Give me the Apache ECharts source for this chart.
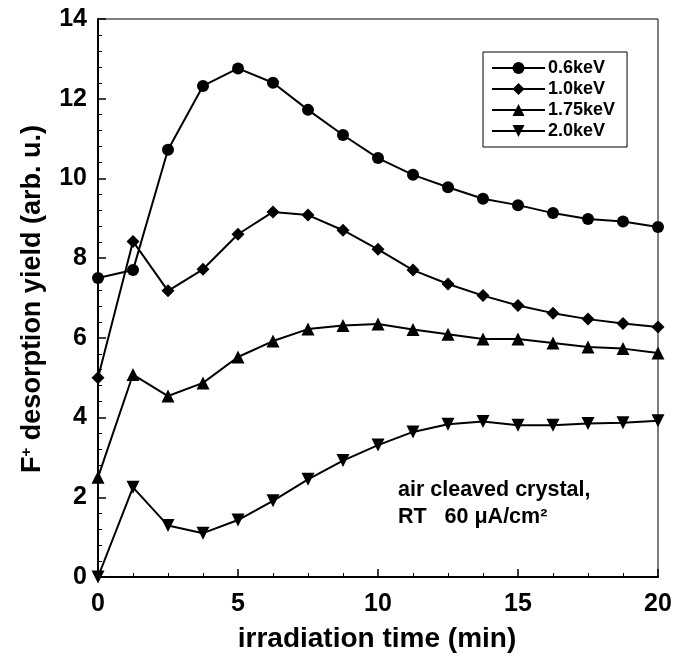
<!DOCTYPE html>
<html>
<head>
<meta charset="utf-8">
<script src="https://cdn.jsdelivr.net/npm/echarts@6/dist/echarts.min.js"></script>
<style>
  html, body { margin: 0; padding: 0; background: #fff; }
  #chart { width: 675px; height: 667px; }
</style>
</head>
<body>
<div id="chart"></div>
<script>
// Irradiation times (min), sampled every 1.25 min
const times = [0, 1.25, 2.5, 3.75, 5, 6.25, 7.5, 8.75, 10, 11.25, 12.5, 13.75, 15, 16.25, 17.5, 18.75, 20];

// F+ desorption yield (arb. u.) per primary energy
const yield06 = [7.5, 7.7, 10.72, 12.32, 12.76, 12.4, 11.72, 11.09, 10.51, 10.09, 9.78, 9.49, 9.33, 9.13, 8.98, 8.92, 8.78];
const yield10 = [5.0, 8.42, 7.18, 7.72, 8.6, 9.16, 9.08, 8.7, 8.22, 7.7, 7.35, 7.06, 6.81, 6.62, 6.47, 6.36, 6.27];
const yield175 = [2.5, 5.08, 4.54, 4.87, 5.52, 5.92, 6.22, 6.31, 6.35, 6.21, 6.09, 5.97, 5.97, 5.87, 5.77, 5.73, 5.62];
const yield20 = [0.0, 2.25, 1.29, 1.1, 1.43, 1.91, 2.45, 2.92, 3.31, 3.64, 3.83, 3.9, 3.81, 3.81, 3.85, 3.87, 3.92];

const seriesNames = ['0.6keV', '1.0keV', '1.75keV', '2.0keV'];

const FONT = "'Liberation Sans', Arial, sans-serif";

function pairs(values) {
  return times.map((t, i) => [t, values[i]]);
}

function lineSeries(name, values, symbol, size, rotate) {
  return {
    name: name,
    type: 'line',
    data: pairs(values),
    symbol: symbol,
    symbolSize: size,
    symbolRotate: rotate || 0,
    showAllSymbol: true,
    clip: false,
    lineStyle: { color: '#000', width: 2 },
    itemStyle: { color: '#000', borderWidth: 0 },
    emphasis: { disabled: true },
    z: 3
  };
}

const chart = echarts.init(document.getElementById('chart'), null, { renderer: 'canvas' });

chart.setOption({
  animation: false,
  backgroundColor: '#fff',
  grid: {
    left: 98, right: 17, top: 19, bottom: 90,
    show: true, borderColor: '#000', borderWidth: 1, backgroundColor: 'transparent'
  },
  legend: {
    data: seriesNames,
    orient: 'vertical',
    left: 483, top: 52,
    padding: [7, 12, 7, 8],
    itemWidth: 53, itemHeight: 15, itemGap: 3,
    borderColor: '#000', borderWidth: 1,
    backgroundColor: '#fff',
    textStyle: { fontFamily: FONT, fontWeight: 'bold', fontSize: 18, color: '#000', padding: [0, 0, 0, -2] },
    selectedMode: false
  },
  xAxis: {
    type: 'value', min: 0, max: 20, interval: 5,
    axisLine: { show: true, lineStyle: { color: '#000', width: 2 } },
    axisTick: { show: true, inside: true, length: 8, lineStyle: { color: '#000', width: 1.5 } },
    minorTick: { show: true, splitNumber: 4, length: 4, lineStyle: { color: '#000', width: 1 } },
    splitLine: { show: false },
    axisLabel: { fontFamily: FONT, fontWeight: 'bold', fontSize: 25, color: '#000', margin: 15 }
  },
  yAxis: {
    type: 'value', min: 0, max: 14, interval: 2,
    axisLine: { show: true, lineStyle: { color: '#000', width: 2 } },
    axisTick: { show: true, inside: true, length: 8, lineStyle: { color: '#000', width: 1.5 } },
    minorTick: { show: true, splitNumber: 5, length: 4, lineStyle: { color: '#000', width: 1 } },
    splitLine: { show: false },
    axisLabel: { fontFamily: FONT, fontWeight: 'bold', fontSize: 25, color: '#000', margin: 11 }
  },
  series: [
    lineSeries(seriesNames[0], yield06, 'circle', 12),
    lineSeries(seriesNames[1], yield10, 'diamond', 13),
    lineSeries(seriesNames[2], yield175, 'triangle', 13),
    lineSeries(seriesNames[3], yield20, 'triangle', 13, 180)
  ],
  graphic: [
    {
      type: 'text',
      x: 377, y: 639,
      style: {
        text: 'irradiation time (min)',
        fontFamily: FONT, fontWeight: 'bold', fontSize: 28, fill: '#000',
        align: 'center', verticalAlign: 'middle'
      }
    },
    {
      type: 'text',
      x: 33, y: 299,
      rotation: Math.PI / 2,
      style: {
        text: '{b|F}{s|+}{b| desorption yield (arb. u.)}',
        align: 'center', verticalAlign: 'middle',
        rich: {
          b: { fontFamily: FONT, fontWeight: 'bold', fontSize: 27, fill: '#000' },
          s: { fontFamily: FONT, fontWeight: 'bold', fontSize: 15, fill: '#000', verticalAlign: 'top', padding: [0, 0, 10, 0] }
        }
      }
    },
    {
      type: 'text',
      x: 398, y: 477,
      style: {
        text: 'air cleaved crystal,\nRT   60 \u03bcA/cm\u00b2',
        fontFamily: FONT, fontWeight: 'bold', fontSize: 21.5, fill: '#000',
        lineHeight: 27
      }
    }
  ]
});
</script>
</body>
</html>
